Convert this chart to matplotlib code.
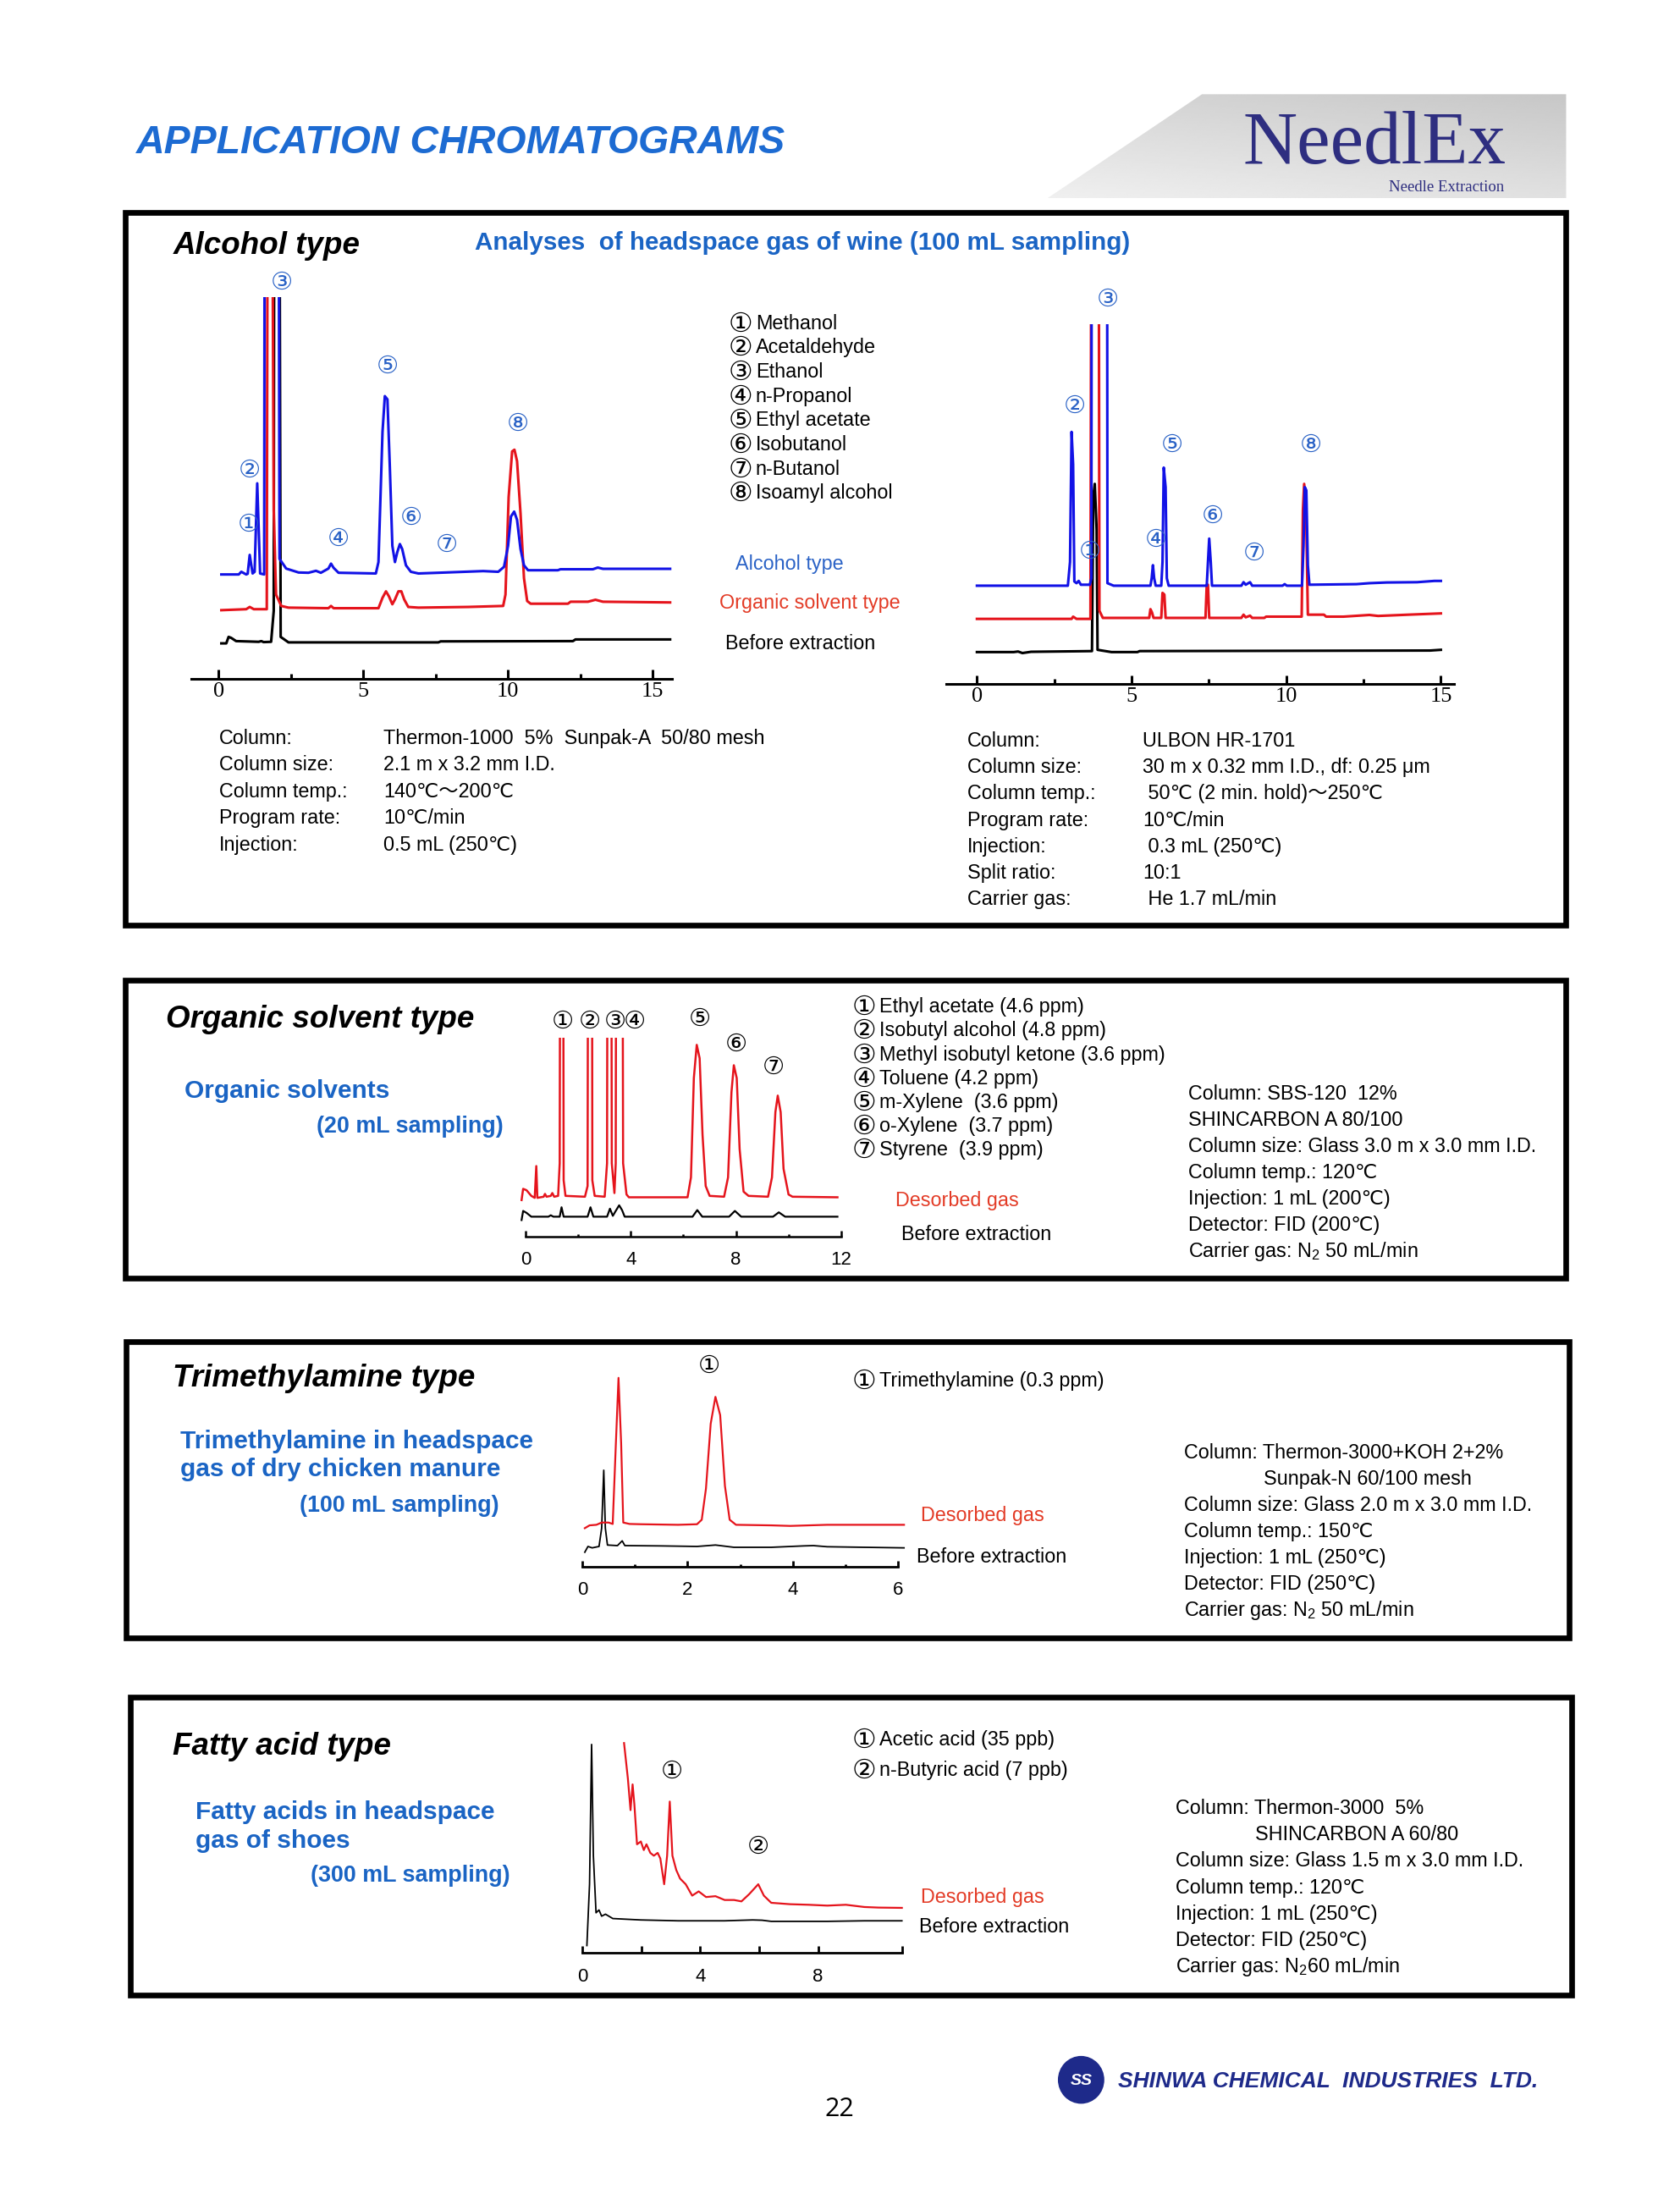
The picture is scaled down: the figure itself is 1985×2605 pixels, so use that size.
import matplotlib.pyplot as plt
from matplotlib.patches import Rectangle, Polygon, Ellipse
import numpy as np

plt.rcParams['font.family'] = ['Liberation Sans', 'DejaVu Sans', 'Noto Sans CJK JP']
plt.rcParams['mathtext.fontset'] = 'custom'
plt.rcParams['mathtext.rm'] = 'Liberation Sans'

# ---------------- data (time in min, signal in arbitrary units) ----------------
CIRC = ['①', '②', '③', '④', '⑤', '⑥', '⑦', '⑧']

# Alcohol type, packed column (left)
wl_t_blue = [0.09, 0.69, 0.78, 0.95, 1.0, 1.07, 1.17, 1.24, 1.33, 1.43, 1.57, 1.60, 2.05, 2.10, 2.33,
             2.76, 3.10, 3.36, 3.53, 3.79, 3.88, 3.97, 4.14, 5.43, 5.52, 5.66, 5.74, 5.83, 5.91, 6.0,
             6.09, 6.17, 6.26, 6.34, 6.47, 6.64, 6.90, 7.59, 9.14, 9.66, 9.86, 10.0, 10.10, 10.21, 10.31,
             10.43, 10.55, 10.69, 11.72, 11.81, 12.93, 13.10, 13.28, 15.60]
wl_s_blue = [74.0, 74.0, 75.9, 74.0, 74.5, 87.9, 74.7, 75.9, 138.8, 74.7, 74.0, 600, 600, 85.1, 78.2,
             75.4, 75.2, 76.6, 75.2, 78.2, 81.7, 78.7, 75.2, 74.7, 82.8, 175.4, 200.8, 198.5, 152.2, 94.4,
             82.8, 89.8, 95.6, 92.1, 80.5, 75.9, 74.7, 75.2, 76.4, 75.9, 79.4, 94.4, 115.2, 118.7, 112.9,
             92.1, 80.5, 77.0, 77.0, 77.7, 77.7, 78.9, 78.0, 78.0]
wl_t_red = [0.09, 0.95, 1.07, 1.21, 1.66, 1.71, 1.80, 1.90, 1.98, 2.16, 2.41, 3.79, 3.88, 3.97, 5.52,
            5.66, 5.78, 5.88, 6.0, 6.09, 6.21, 6.31, 6.41, 6.55, 6.90, 8.62, 9.83, 9.91, 10.02, 10.14,
            10.22, 10.31, 10.43, 10.55, 10.66, 10.78, 12.07, 12.16, 12.76, 13.02, 13.28, 15.60]
wl_s_red = [48.6, 49.3, 50.9, 49.3, 49.3, 600, 600, 120, 59.7, 51.6, 50.4, 50.0, 51.6, 50.0, 50.0,
            57.4, 62.0, 58.5, 52.8, 56.2, 62.0, 62.0, 56.2, 50.9, 50.4, 50.9, 51.6, 59.7, 129.1, 161.5,
            162.7, 154.6, 117.5, 71.3, 55.1, 53.2, 53.2, 54.6, 54.6, 56.0, 54.6, 54.1]
wl_t_black = [0.09, 0.26, 0.34, 0.43, 0.60, 1.38, 1.47, 1.55, 1.81, 1.90, 1.93, 2.07, 2.14, 2.41,
              7.59, 7.67, 12.24, 12.33, 15.60]
wl_s_black = [25.0, 25.0, 29.6, 28.9, 26.6, 26.1, 26.6, 25.9, 26.1, 48.1, 600, 600, 29.6, 25.7,
              25.7, 26.4, 26.6, 27.8, 27.8]
wl_lab_t = [1.03, 1.07, 2.19, 4.14, 5.83, 6.64, 7.88, 10.34]
wl_lab_s = [109.4, 148.1, 281.8, 99.0, 221.7, 114.5, 94.9, 181.2]

# Alcohol type, capillary column (right)
wr_t_blue = [0, 2.94, 3.01, 3.06, 3.11, 3.15, 3.22, 3.29, 3.36, 3.65, 3.70, 3.72, 4.20, 4.22, 4.42,
             5.61, 5.65, 5.69, 5.73, 5.78, 5.96, 6.0, 6.04, 6.10, 6.14, 6.20, 7.43, 7.47, 7.51, 7.56,
             7.60, 8.55, 8.62, 8.69, 8.83, 8.90, 9.88, 9.95, 10.02, 10.51, 10.56, 10.60, 10.65, 10.70,
             10.75, 12.27, 12.69, 13.25, 14.23, 14.79, 15.0]
wr_s_blue = [69.9, 69.9, 86.8, 179.3, 156.2, 72.9, 71.7, 73.3, 70.6, 70.6, 75.2, 600, 600, 71.7, 69.9,
             69.9, 75.2, 84.5, 75.2, 69.9, 69.9, 86.8, 153.9, 140.0, 75.2, 69.9, 69.9, 86.8, 103.4, 86.8,
             69.9, 69.9, 72.4, 70.6, 72.4, 69.9, 69.9, 71.0, 69.9, 69.9, 98.3, 140.0, 137.7, 84.5,
             70.6, 71.0, 71.7, 72.2, 72.4, 73.3, 73.3]
wr_t_red = [0, 3.06, 3.11, 3.22, 3.67, 3.72, 3.92, 3.96, 4.07, 5.57, 5.61, 5.66, 5.71, 5.96, 6.0,
            6.06, 6.10, 7.39, 7.43, 7.47, 7.51, 8.55, 8.62, 8.69, 8.83, 8.90, 9.29, 9.35, 10.50, 10.54,
            10.58, 10.64, 10.70, 11.22, 11.29, 11.85, 12.69, 12.97, 13.95, 15.0]
wr_s_red = [46.3, 46.3, 47.9, 46.3, 46.3, 600, 600, 52.1, 47.0, 47.0, 53.2, 50.9, 47.0, 47.0, 64.8,
            63.6, 47.0, 47.0, 70.6, 70.6, 47.0, 47.0, 49.3, 47.4, 48.6, 47.0, 47.0, 47.9, 47.9, 123.8,
            142.3, 126.1, 49.3, 49.3, 47.9, 47.9, 49.1, 48.4, 49.3, 50.2]
wr_t_black = [0, 1.19, 1.33, 1.47, 1.75, 3.72, 3.76, 3.81, 3.87, 3.90, 4.35, 5.19, 5.26, 14.65, 15.0]
wr_s_black = [22.7, 22.7, 23.1, 22.0, 22.9, 23.4, 133.0, 142.3, 109.9, 24.3, 22.7, 22.7, 23.4, 23.8, 24.3]
wr_lab_t = [3.65, 3.15, 4.23, 5.79, 6.31, 7.61, 8.97, 10.79]
wr_lab_s = [94.2, 197.4, 273.7, 102.3, 169.6, 119.6, 93.0, 169.6]

# Organic solvent type
os_t_red = [-0.15, -0.09, 0.04, 0.22, 0.35, 0.41, 0.45, 0.69, 0.74, 0.80, 0.96, 1.02, 1.09, 1.24,
            1.30, 1.33, 1.42, 1.45, 1.52, 2.26, 2.36, 2.39, 2.52, 2.54, 2.63, 3.01, 3.10, 3.13, 3.25,
            3.28, 3.38, 3.43, 3.46, 3.67, 3.71, 3.84, 3.93, 6.16, 6.29, 6.40, 6.51, 6.62, 6.73, 6.85,
            7.0, 7.55, 7.70, 7.83, 7.92, 8.03, 8.14, 8.29, 8.48, 9.22, 9.37, 9.50, 9.59, 9.70, 9.81,
            10.0, 10.15, 11.86]
os_s_red = [26.3, 34.3, 33.3, 29.3, 27.9, 50.5, 27.9, 28.7, 30.7, 28.7, 29.3, 31.3, 28.7, 29.3,
            52.5, 400, 400, 40.4, 29.3, 28.7, 36.3, 400, 400, 40.4, 29.3, 28.7, 52.5, 400, 400,
            52.5, 31.3, 52.5, 400, 400, 52.5, 30.3, 28.3, 28.3, 42.4, 113.1, 136.7, 127.2, 72.7, 36.3,
            29.3, 28.7, 42.4, 103.0, 122.2, 113.1, 62.6, 32.3, 29.3, 28.7, 42.4, 88.9, 100.6, 88.9, 48.5,
            30.3, 28.7, 28.3]
os_t_black = [-0.15, -0.09, 0.04, 0.22, 0.87, 0.96, 1.06, 1.30, 1.37, 1.45, 2.36, 2.47, 2.58, 3.10,
              3.21, 3.32, 3.43, 3.56, 3.67, 3.77, 6.35, 6.53, 6.72, 7.74, 7.96, 8.20, 9.41, 9.63, 9.87,
              11.86]
os_s_black = [12.1, 18.6, 17.2, 14.5, 14.5, 15.5, 14.5, 14.5, 21.2, 14.5, 14.5, 21.2, 14.5, 14.5,
              20.2, 15.1, 18.6, 22.6, 19.2, 14.5, 14.5, 19.2, 14.5, 14.5, 18.6, 14.5, 14.5, 17.6, 14.5,
              14.5]
os_lab_t = [1.43, 2.43, 3.40, 4.16, 6.62, 8.01, 9.41]
os_lab_s = [153.5, 153.5, 153.5, 153.5, 154.9, 137.3, 120.8]

# Trimethylamine type
tm_t_red = [0.05, 0.14, 0.27, 0.37, 0.50, 0.58, 0.64, 0.69, 0.74, 0.78, 0.90, 1.12, 1.82, 2.18,
            2.27, 2.35, 2.44, 2.53, 2.62, 2.71, 2.80, 2.92, 3.59, 3.95, 4.65, 5.36, 6.11]
tm_s_red = [27.7, 29.7, 30.1, 31.7, 31.7, 30.7, 88.0, 134.6, 88.0, 31.7, 30.7, 30.5, 30.1, 30.5,
            33.7, 55.8, 102.0, 121.1, 108.1, 57.8, 33.7, 30.1, 29.7, 29.3, 30.1, 30.1, 30.1]
tm_t_black = [0.05, 0.11, 0.19, 0.32, 0.37, 0.41, 0.44, 0.48, 0.67, 0.76, 0.81, 1.47, 2.18, 2.53,
              2.62, 2.88, 3.59, 4.21, 4.39, 4.65, 5.36, 6.11]
tm_s_black = [10.6, 14.7, 13.7, 14.7, 27.7, 68.9, 27.7, 15.7, 15.3, 18.7, 15.3, 15.1, 14.7, 15.7,
              15.3, 14.1, 14.1, 15.1, 15.3, 14.5, 14.1, 13.7]
tm_lab_t = [2.41]
tm_lab_s = [143.2]

# Fatty acid type
fa_t_red = [1.42, 1.55, 1.64, 1.71, 1.77, 1.86, 1.99, 2.09, 2.18, 2.31, 2.43, 2.56, 2.65, 2.78,
            2.88, 2.97, 3.06, 3.19, 3.32, 3.51, 3.73, 3.95, 4.20, 4.52, 4.83, 5.15, 5.40, 5.66, 5.97,
            6.16, 6.41, 7.05, 7.68, 8.31, 8.94, 9.57, 10.05, 10.84]
fa_s_red = [149.1, 123.8, 101.4, 119.7, 105.5, 77.1, 79.1, 73.0, 77.1, 71.0, 69.0, 71.0, 67.0, 48.7,
            69.0, 107.5, 69.0, 58.8, 52.7, 48.7, 40.6, 43.6, 39.6, 40.2, 37.5, 37.5, 36.5, 41.6, 48.7,
            40.6, 35.5, 34.5, 34.1, 33.5, 34.1, 32.5, 32.1, 31.9]
fa_t_black = [0.16, 0.25, 0.32, 0.38, 0.47, 0.57, 0.66, 0.79, 1.04, 1.99, 3.25, 4.83, 5.78, 6.10,
              6.41, 8.31, 9.57, 10.84]
fa_s_black = [5.1, 48.7, 148.1, 69.0, 28.4, 30.4, 26.0, 27.4, 24.3, 23.3, 22.7, 22.7, 23.3, 23.1,
              22.3, 22.3, 22.7, 22.7]
fa_lab_t = [3.03, 5.97]
fa_lab_s = [128.8, 75.5]

# ---------------- page ----------------
W, H = 1195, 1568
TITLE_BLUE = '#1d6bd2'
SUB_BLUE = '#1a64c4'
LIST_BLUE = '#2a62c6'
TXT_RED = '#e33b26'
TR_BLUE = '#1212e6'
TR_RED = '#e5141c'
NAVY = '#1e2a8a'
NUM_SIZE = 23

fig = plt.figure(figsize=(19.85, 26.05), dpi=100)
page = fig.add_axes([0, 0, 1, 1])
page.axis('off')


def put(x, y, s, size=16.8, color='black', weight='normal', style='normal', ha='left', family=None):
    kw = {'family': family} if family else {}
    page.text(x, y, s, fontsize=size, color=color, fontweight=weight, fontstyle=style,
              ha=ha, va='center', **kw)


def put_item(x, y, i, s):
    # circled number drawn a bit larger than the body text, as in the reference
    page.text(x + 6.5, y + 0.5, CIRC[i], fontsize=NUM_SIZE, ha='center', va='center',
              family='DejaVu Sans')
    put(x + 17.5, y, s)


# header
put(97, 102, 'APPLICATION CHROMATOGRAMS', 33.5, TITLE_BLUE, 'bold', 'italic')
gx, gy = np.meshgrid(np.linspace(0, 1, 200), np.linspace(0, 1, 60))
shade = 0.78 + 0.10 * gy + 0.06 * (1 - gx)
im = page.imshow(shade, extent=(745, 1114, 141, 67), cmap='gray', vmin=0, vmax=1,
                 aspect='auto', interpolation='bilinear')
logo_poly = Polygon([(745, 141), (855, 67), (1114, 67), (1114, 141)], closed=True,
                    facecolor='none', edgecolor='none')
page.add_patch(logo_poly)
im.set_clip_path(logo_poly)
page.text(1071, 116, 'NeedlEx', fontsize=64, color='#2e2e80', family='Liberation Serif',
          va='baseline', ha='right')
page.text(1070, 136, 'Needle Extraction', fontsize=13.5, color='#2e2e80', family='Liberation Serif',
          va='baseline', ha='right')

# panel frames
for x0, y0, x1, y1 in [(89, 151, 1114, 658), (89, 697, 1114, 909), (90, 954, 1116, 1165),
                       (93, 1207, 1118, 1419)]:
    page.add_patch(Rectangle((x0, y0), x1 - x0, y1 - y0, fill=False, lw=4.8, ec='black',
                             joinstyle='miter'))


def chromatogram(x_zero, ppm, t_lo, t_hi, y_top, y_axis, traces, lab_t, lab_s, lab_color,
                 major, labels, minor, major_len, minor_len, pad, serif=False, bounds=None,
                 spine_w=2.2, lab_size=21):
    x0 = x_zero + t_lo * ppm
    x1 = x_zero + t_hi * ppm
    ax = fig.add_axes([x0 / W, 1 - y_axis / H, (x1 - x0) / W, (y_axis - y_top) / H])
    ax.set_xlim(t_lo, t_hi)
    ax.set_ylim(0, y_axis - y_top)
    ax.patch.set_visible(False)
    for side in ['left', 'right', 'top']:
        ax.spines[side].set_visible(False)
    ax.spines['bottom'].set_linewidth(spine_w)
    if bounds:
        ax.spines['bottom'].set_bounds(*bounds)
    ax.set_yticks([])
    ax.set_xticks(major, labels=labels)
    ax.set_xticks(minor, minor=True)
    ax.tick_params(axis='x', which='major', direction='in', length=major_len, width=spine_w,
                   pad=pad, labelsize=19 if serif else 16)
    ax.tick_params(axis='x', which='minor', direction='in', length=minor_len, width=spine_w)
    if serif:
        for lb in ax.get_xticklabels():
            lb.set_family('Liberation Serif')
    for t, s, c, w in traces:
        ax.plot(t, s, color=c, lw=w)
    for i, (t, s) in enumerate(zip(lab_t, lab_s)):
        ax.text(t, s, CIRC[i], color=lab_color, fontsize=lab_size, ha='center', va='center',
                family='DejaVu Sans')
    return ax


# ---------------- Alcohol type ----------------
put(123, 175, 'Alcohol type', 26.5, 'black', 'bold', 'italic')
put(338, 173, 'Analyses  of headspace gas of wine (100 mL sampling)', 21.3, SUB_BLUE, 'bold')

chromatogram(155.6, 20.58, -0.95, 15.66, 482.5 - 271.4, 482.5,
             [(wl_t_black, wl_s_black, 'black', 2.2), (wl_t_red, wl_s_red, TR_RED, 2.2),
              (wl_t_blue, wl_s_blue, TR_BLUE, 2.2)],
             wl_lab_t, wl_lab_s, LIST_BLUE, [0, 5, 10, 15], ['0', '5', '10', '15'],
             [2.5, 7.5, 12.5], 8, 4, 3, serif=True)
chromatogram(694.9, 22.0, -0.98, 15.42, 486.4 - 256.1, 486.4,
             [(wr_t_black, wr_s_black, 'black', 2.2), (wr_t_red, wr_s_red, TR_RED, 2.2),
              (wr_t_blue, wr_s_blue, TR_BLUE, 2.2)],
             wr_lab_t, wr_lab_s, LIST_BLUE, [0, 5, 10, 15], ['0', '5', '10', '15'],
             [2.5, 7.5, 12.5], 7, 4, 3, serif=True)

alc_names = ['Methanol', 'Acetaldehyde', 'Ethanol', 'n-Propanol', 'Ethyl acetate', 'Isobutanol',
             'n-Butanol', 'Isoamyl alcohol']
for i, nm in enumerate(alc_names):
    put_item(520, 230 + 17.25 * i, i, nm)
put(523, 401, 'Alcohol type', color=LIST_BLUE)
put(512, 429, 'Organic solvent type', color=TXT_RED)
put(516, 458, 'Before extraction')

left_keys = ['Column:', 'Column size:', 'Column temp.:', 'Program rate:', 'Injection:']
left_vals = ['Thermon-1000  5%  Sunpak-A  50/80 mesh', '2.1 m x 3.2 mm I.D.', '140℃～200℃',
             '10℃/min', '0.5 mL (250℃)']
for i, (k, v) in enumerate(zip(left_keys, left_vals)):
    put(156, 525 + 19 * i, k)
    put(273, 525 + 19 * i, v)
right_keys = ['Column:', 'Column size:', 'Column temp.:', 'Program rate:', 'Injection:',
              'Split ratio:', 'Carrier gas:']
right_vals = ['ULBON HR-1701', '30 m x 0.32 mm I.D., df: 0.25 μm', ' 50℃ (2 min. hold)～250℃',
              '10℃/min', ' 0.3 mL (250℃)', '10:1', ' He 1.7 mL/min']
for i, (k, v) in enumerate(zip(right_keys, right_vals)):
    put(688, 527 + 18.8 * i, k)
    put(813, 527 + 18.8 * i, v)

# ---------------- Organic solvent type ----------------
put(118, 725, 'Organic solvent type', 26.5, 'black', 'bold', 'italic')
put(131, 776, 'Organic solvents', 21.5, SUB_BLUE, 'bold')
put(225, 801, '(20 mL sampling)', 19.4, SUB_BLUE, 'bold')
chromatogram(373.8, 18.71, -0.2, 12.1, 879.7 - 141.8, 879.7,
             [(os_t_black, os_s_black, 'black', 1.6), (os_t_red, os_s_red, TR_RED, 1.8)],
             os_lab_t, os_lab_s, 'black', [0, 4, 8, 12], ['0', '4', '8', '12'],
             [2, 6, 10], 5, 2.5, 12, bounds=(0, 12), spine_w=1.8)
os_names = ['Ethyl acetate (4.6 ppm)', 'Isobutyl alcohol (4.8 ppm)',
            'Methyl isobutyl ketone (3.6 ppm)', 'Toluene (4.2 ppm)', 'm-Xylene  (3.6 ppm)',
            'o-Xylene  (3.7 ppm)', 'Styrene  (3.9 ppm)']
for i, nm in enumerate(os_names):
    put_item(608, 716 + 17 * i, i, nm)
put(637, 854, 'Desorbed gas', color=TXT_RED)
put(641, 878, 'Before extraction')
os_spec = ['Column: SBS-120  12%', 'SHINCARBON A 80/100', 'Column size: Glass 3.0 m x 3.0 mm I.D.',
           'Column temp.: 120℃', 'Injection: 1 mL (200℃)', 'Detector: FID (200℃)',
           'Carrier gas: N$_2$ 50 mL/min']
for i, line in enumerate(os_spec):
    put(845, 778 + 18.7 * i, line)

# ---------------- Trimethylamine type ----------------
put(123, 980, 'Trimethylamine type', 26.5, 'black', 'bold', 'italic')
put(128, 1025, 'Trimethylamine in headspace', 21.5, SUB_BLUE, 'bold')
put(128, 1045, 'gas of dry chicken manure', 21.5, SUB_BLUE, 'bold')
put(213, 1071, '(100 mL sampling)', 19.4, SUB_BLUE, 'bold')
chromatogram(414.1, 37.47, -0.1, 6.15, 1114.4 - 150, 1114.4,
             [(tm_t_black, tm_s_black, 'black', 1.3), (tm_t_red, tm_s_red, TR_RED, 1.6)],
             tm_lab_t, tm_lab_s, 'black', [0, 2, 4, 6], ['0', '2', '4', '6'],
             [1, 3, 5], 5, 2.5, 12, bounds=(0, 6), spine_w=2.0)
put_item(608, 982, 0, 'Trimethylamine (0.3 ppm)')
put(655, 1078, 'Desorbed gas', color=TXT_RED)
put(652, 1107, 'Before extraction')
tm_spec = [(842, 'Column: Thermon-3000+KOH 2+2%'), (899, 'Sunpak-N 60/100 mesh'),
           (842, 'Column size: Glass 2.0 m x 3.0 mm I.D.'), (842, 'Column temp.: 150℃'),
           (842, 'Injection: 1 mL (250℃)'), (842, 'Detector: FID (250℃)'),
           (842, 'Carrier gas: N$_2$ 50 mL/min')]
for i, (x, line) in enumerate(tm_spec):
    put(x, 1033 + 18.7 * i, line)

# ---------------- Fatty acid type ----------------
put(123, 1242, 'Fatty acid type', 26.5, 'black', 'bold', 'italic')
put(139, 1289, 'Fatty acids in headspace', 21.5, SUB_BLUE, 'bold')
put(139, 1309, 'gas of shoes', 21.5, SUB_BLUE, 'bold')
put(221, 1334, '(300 mL sampling)', 19.4, SUB_BLUE, 'bold')
chromatogram(414.1, 20.98, -0.15, 10.9, 1388.6 - 150, 1388.6,
             [(fa_t_black, fa_s_black, 'black', 1.3), (fa_t_red, fa_s_red, TR_RED, 1.6)],
             fa_lab_t, fa_lab_s, 'black', [0, 2, 4, 6, 8, 10.84],
             ['0', '', '4', '', '8', ''], [0, 10.84], 6, 10, 13, bounds=(0, 10.84),
             spine_w=2.0)
put_item(608, 1237, 0, 'Acetic acid (35 ppb)')
put_item(608, 1259, 1, 'n-Butyric acid (7 ppb)')
put(655, 1349, 'Desorbed gas', color=TXT_RED)
put(654, 1370, 'Before extraction')
fa_spec = [(836, 'Column: Thermon-3000  5%'), (893, 'SHINCARBON A 60/80'),
           (836, 'Column size: Glass 1.5 m x 3.0 mm I.D.'), (836, 'Column temp.: 120℃'),
           (836, 'Injection: 1 mL (250℃)'), (836, 'Detector: FID (250℃)'),
           (836, 'Carrier gas: N$_2$60 mL/min')]
for i, (x, line) in enumerate(fa_spec):
    put(x, 1286 + 18.8 * i, line)

# ---------------- footer ----------------
page.add_patch(Ellipse((769, 1479), 33, 34, fc=NAVY, ec='none'))
page.text(769, 1480, 'SS', color='white', fontsize=14, fontweight='bold', fontstyle='italic',
          ha='center', va='center')
put(795, 1480, 'SHINWA CHEMICAL  INDUSTRIES  LTD.', 19, NAVY, 'bold', 'italic')
put(597, 1500, '22', 22, ha='center', family='Open Sans')

page.set_xlim(0, W)
page.set_ylim(H, 0)

fig.savefig('out.png', dpi=100, facecolor='white')
